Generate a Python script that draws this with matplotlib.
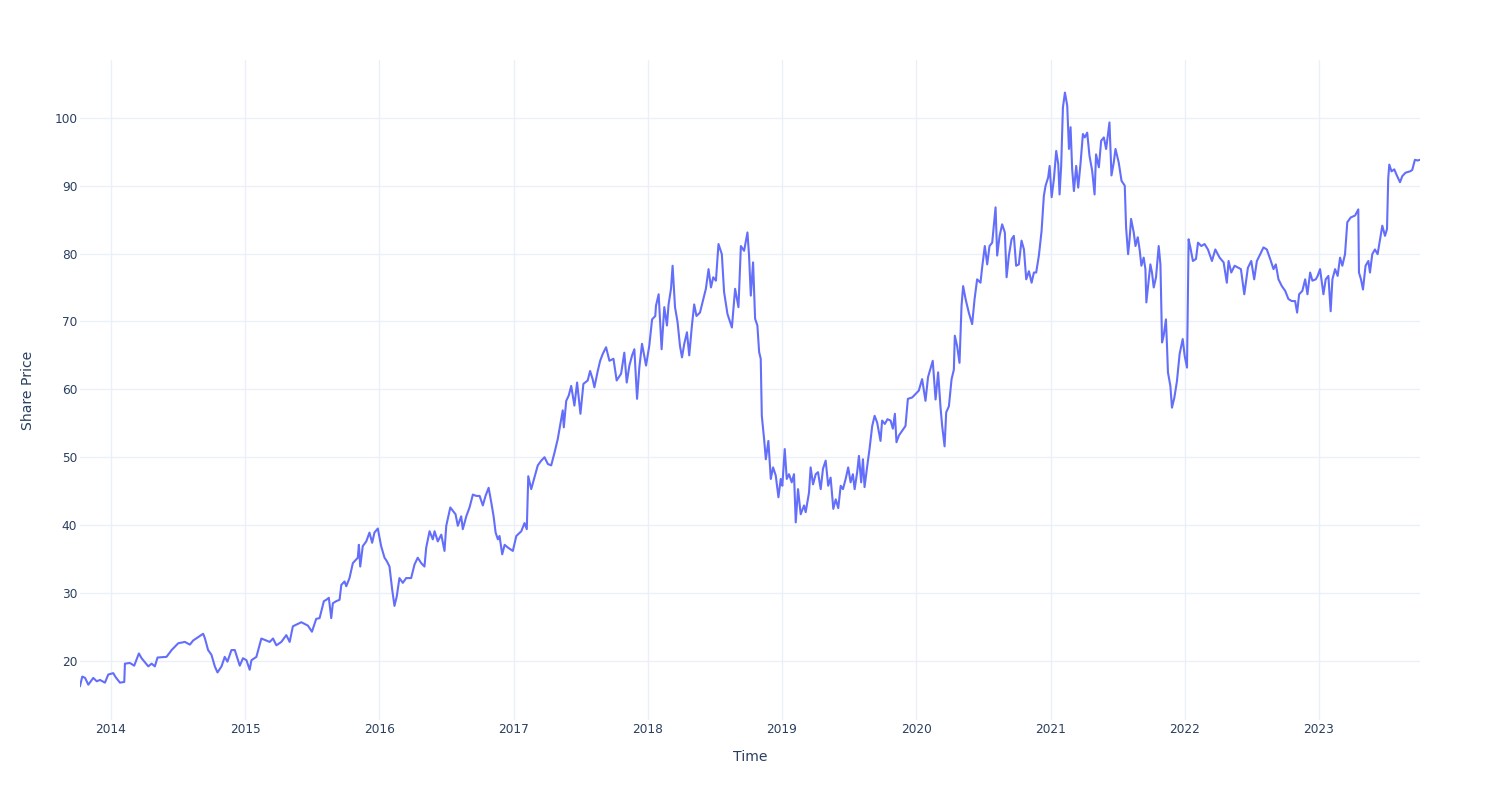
import numpy as np
import pandas as pd
import matplotlib
matplotlib.use('Agg')
import matplotlib.pyplot as plt
import matplotlib.dates as mdates

# share price, time as decimal years
years_2013_15 = [
    2013.769, 2013.786, 2013.807, 2013.831, 2013.868, 2013.894, 2013.918, 2013.955, 2013.980, 2014.017,
    2014.035, 2014.067, 2014.099, 2014.104, 2014.141, 2014.173, 2014.208, 2014.228, 2014.278, 2014.303,
    2014.327, 2014.347, 2014.414, 2014.452, 2014.501, 2014.551, 2014.588, 2014.612, 2014.687, 2014.699,
    2014.724, 2014.749, 2014.774, 2014.794, 2014.824, 2014.848, 2014.868, 2014.898, 2014.923, 2014.947,
    2014.960, 2014.984, 2015.010, 2015.034, 2015.047, 2015.084, 2015.121, 2015.183, 2015.208, 2015.233,
    2015.270, 2015.307, 2015.332, 2015.356, 2015.419, 2015.468, 2015.498]
price_2013_15 = [
    16.3, 17.7, 17.5, 16.5, 17.5, 17.0, 17.2, 16.8, 18.0, 18.2,
    17.6, 16.8, 16.9, 19.6, 19.7, 19.3, 21.1, 20.4, 19.2, 19.6,
    19.2, 20.5, 20.6, 21.6, 22.6, 22.8, 22.4, 23.0, 24.0, 23.4,
    21.6, 20.9, 19.2, 18.3, 19.2, 20.6, 19.9, 21.6, 21.6, 20.1,
    19.3, 20.4, 20.1, 18.7, 20.1, 20.6, 23.3, 22.8, 23.3, 22.3,
    22.8, 23.8, 22.8, 25.1, 25.7, 25.2, 24.3]

years_2015_17 = [
    2015.530, 2015.555, 2015.587, 2015.605, 2015.624, 2015.642, 2015.654, 2015.679, 2015.704, 2015.717,
    2015.741, 2015.754, 2015.778, 2015.803, 2015.840, 2015.848, 2015.858, 2015.877, 2015.903, 2015.927,
    2015.947, 2015.964, 2015.989, 2016.014, 2016.039, 2016.056, 2016.076, 2016.096, 2016.113, 2016.130,
    2016.150, 2016.175, 2016.200, 2016.237, 2016.262, 2016.286, 2016.312, 2016.336, 2016.349, 2016.374,
    2016.398, 2016.411, 2016.435, 2016.461, 2016.485, 2016.498, 2016.528, 2016.547, 2016.567, 2016.584,
    2016.609, 2016.621, 2016.647, 2016.671, 2016.696, 2016.721, 2016.746, 2016.770, 2016.790, 2016.813,
    2016.833, 2016.850, 2016.865, 2016.882, 2016.894, 2016.914, 2016.932, 2016.956, 2016.993, 2017.019,
    2017.056, 2017.080, 2017.097, 2017.108, 2017.130]
price_2015_17 = [
    26.2, 26.3, 28.8, 29.0, 29.3, 26.3, 28.5, 28.8, 29.0, 31.2,
    31.7, 31.0, 32.2, 34.4, 35.2, 37.1, 33.9, 36.9, 37.6, 38.9,
    37.4, 38.9, 39.5, 36.9, 35.2, 34.7, 33.9, 30.5, 28.1, 29.5,
    32.2, 31.5, 32.2, 32.2, 34.2, 35.2, 34.4, 33.9, 36.7, 39.1,
    37.9, 39.1, 37.6, 38.6, 36.2, 39.9, 42.6, 42.1, 41.6, 39.9,
    41.3, 39.4, 41.3, 42.6, 44.5, 44.3, 44.3, 42.9, 44.3, 45.5,
    43.3, 41.3, 38.9, 37.9, 38.4, 35.7, 37.1, 36.7, 36.2, 38.4,
    39.1, 40.3, 39.4, 47.2, 45.3]

years_2017_18 = [
    2017.179, 2017.205, 2017.229, 2017.254, 2017.279, 2017.304, 2017.328, 2017.353, 2017.365, 2017.373,
    2017.391, 2017.410, 2017.428, 2017.452, 2017.472, 2017.497, 2017.519, 2017.551, 2017.569, 2017.588,
    2017.601, 2017.626, 2017.644, 2017.663, 2017.688, 2017.713, 2017.743, 2017.767, 2017.800, 2017.824,
    2017.842, 2017.862, 2017.882, 2017.899, 2017.919, 2017.936, 2017.956, 2017.986, 2018.010, 2018.031,
    2018.055, 2018.060, 2018.080, 2018.102, 2018.122, 2018.142, 2018.154, 2018.172, 2018.184, 2018.202,
    2018.221, 2018.239, 2018.254, 2018.271, 2018.291, 2018.308, 2018.328, 2018.345, 2018.362, 2018.388,
    2018.407, 2018.432, 2018.452, 2018.470, 2018.487, 2018.507, 2018.526, 2018.551, 2018.568, 2018.593,
    2018.626, 2018.650, 2018.675, 2018.693, 2018.717, 2018.742]
price_2017_18 = [
    48.8, 49.5, 50.0, 49.0, 48.8, 50.7, 52.7, 55.6, 56.9, 54.4,
    58.3, 59.1, 60.5, 57.6, 61.0, 56.4, 60.8, 61.3, 62.7, 61.5,
    60.3, 62.7, 64.2, 65.2, 66.2, 64.2, 64.5, 61.3, 62.3, 65.4,
    61.0, 63.5, 65.0, 65.9, 58.6, 63.2, 66.7, 63.5, 66.4, 70.3,
    70.8, 72.3, 74.0, 65.9, 72.1, 69.4, 72.5, 74.8, 78.2, 72.1,
    69.9, 66.4, 64.7, 66.7, 68.4, 65.0, 69.4, 72.5, 70.8, 71.3,
    72.8, 74.8, 77.7, 75.0, 76.5, 76.0, 81.4, 79.9, 74.3, 71.1,
    69.1, 74.8, 72.1, 81.1, 80.4, 83.1]

years_2018_20 = [
    2018.754, 2018.767, 2018.784, 2018.799, 2018.816, 2018.829, 2018.841, 2018.849, 2018.866, 2018.879,
    2018.898, 2018.916, 2018.933, 2018.953, 2018.973, 2018.990, 2019.002, 2019.020, 2019.035, 2019.052,
    2019.072, 2019.089, 2019.102, 2019.119, 2019.139, 2019.164, 2019.176, 2019.201, 2019.213, 2019.231,
    2019.251, 2019.268, 2019.288, 2019.305, 2019.325, 2019.344, 2019.362, 2019.382, 2019.400, 2019.419,
    2019.437, 2019.454, 2019.474, 2019.493, 2019.511, 2019.528, 2019.541, 2019.560, 2019.573, 2019.590,
    2019.603, 2019.615, 2019.635, 2019.652, 2019.672, 2019.690, 2019.709, 2019.734, 2019.746, 2019.766,
    2019.786, 2019.809, 2019.826, 2019.841, 2019.853, 2019.871, 2019.895, 2019.920, 2019.938, 2019.970,
    2019.995, 2020.019, 2020.044, 2020.069, 2020.088]
price_2018_20 = [
    79.7, 73.8, 78.7, 70.4, 69.4, 65.5, 64.5, 56.1, 52.7, 49.7,
    52.4, 46.8, 48.5, 47.3, 44.1, 46.8, 45.8, 51.2, 46.8, 47.5,
    46.3, 47.5, 40.4, 45.3, 41.6, 42.9, 41.9, 44.8, 48.5, 46.0,
    47.5, 47.8, 45.3, 48.3, 49.5, 45.8, 47.0, 42.4, 43.8, 42.5,
    45.8, 45.3, 46.8, 48.5, 46.3, 47.5, 45.3, 47.8, 50.2, 46.3,
    49.7, 45.6, 48.7, 51.2, 54.6, 56.1, 55.1, 52.4, 55.4, 54.9,
    55.6, 55.4, 54.2, 56.4, 52.2, 53.2, 53.9, 54.6, 58.6, 58.8,
    59.3, 59.8, 61.5, 58.3, 61.8]

years_2020_21 = [
    2020.123, 2020.144, 2020.163, 2020.181, 2020.193, 2020.211, 2020.223, 2020.243, 2020.263, 2020.280,
    2020.287, 2020.304, 2020.322, 2020.337, 2020.349, 2020.367, 2020.391, 2020.416, 2020.434, 2020.453,
    2020.478, 2020.490, 2020.510, 2020.528, 2020.545, 2020.565, 2020.577, 2020.590, 2020.602, 2020.620,
    2020.639, 2020.659, 2020.672, 2020.689, 2020.709, 2020.726, 2020.743, 2020.763, 2020.783, 2020.801,
    2020.818, 2020.838, 2020.858, 2020.875, 2020.892, 2020.912, 2020.932, 2020.949, 2020.962, 2020.981,
    2020.992, 2021.007, 2021.024, 2021.041, 2021.056, 2021.066, 2021.078, 2021.091, 2021.106, 2021.123,
    2021.136, 2021.148, 2021.160, 2021.173, 2021.190, 2021.205, 2021.222, 2021.240, 2021.254, 2021.272,
    2021.289, 2021.309, 2021.327, 2021.338, 2021.359, 2021.376, 2021.396, 2021.413, 2021.438, 2021.453,
    2021.470, 2021.483, 2021.507, 2021.528, 2021.552, 2021.562]
price_2020_21 = [
    64.2, 58.5, 62.5, 57.3, 54.6, 51.6, 56.6, 57.5, 61.5, 62.9,
    67.9, 66.4, 63.9, 72.3, 75.2, 73.3, 71.3, 69.6, 73.3, 76.2,
    75.7, 77.9, 81.1, 78.4, 81.1, 81.6, 84.1, 86.8, 79.7, 82.6,
    84.3, 83.1, 76.5, 79.7, 82.1, 82.6, 78.2, 78.4, 81.9, 80.6,
    76.2, 77.4, 75.7, 77.2, 77.2, 79.7, 83.3, 88.5, 90.0, 91.2,
    92.9, 88.3, 91.0, 95.1, 93.2, 88.7, 92.9, 101.5, 103.7, 101.8,
    95.4, 98.6, 92.4, 89.2, 92.9, 89.7, 93.2, 97.6, 97.1, 97.8,
    94.4, 92.2, 88.7, 94.6, 92.7, 96.6, 97.1, 95.4, 99.3, 91.5,
    93.4, 95.4, 93.4, 90.7, 90.0, 83.8]

years_2021_23 = [
    2021.577, 2021.587, 2021.599, 2021.619, 2021.632, 2021.649, 2021.664, 2021.676, 2021.693, 2021.706,
    2021.713, 2021.731, 2021.743, 2021.755, 2021.768, 2021.785, 2021.805, 2021.818, 2021.830, 2021.842,
    2021.859, 2021.867, 2021.874, 2021.892, 2021.904, 2021.922, 2021.941, 2021.961, 2021.984, 2021.999,
    2022.016, 2022.028, 2022.041, 2022.060, 2022.083, 2022.098, 2022.123, 2022.147, 2022.172, 2022.202,
    2022.227, 2022.259, 2022.289, 2022.313, 2022.326, 2022.346, 2022.371, 2022.400, 2022.418, 2022.443,
    2022.470, 2022.495, 2022.517, 2022.537, 2022.562, 2022.586, 2022.611, 2022.636, 2022.661, 2022.678,
    2022.698, 2022.723, 2022.748, 2022.772, 2022.797, 2022.822, 2022.837, 2022.852, 2022.876, 2022.897,
    2022.914, 2022.934, 2022.951, 2022.976, 2022.990, 2023.008, 2023.033, 2023.050, 2023.070, 2023.087,
    2023.100, 2023.120, 2023.139, 2023.157, 2023.174, 2023.194, 2023.211, 2023.236, 2023.269, 2023.293,
    2023.298, 2023.313, 2023.328, 2023.347, 2023.368, 2023.380, 2023.397, 2023.417, 2023.437, 2023.455,
    2023.472, 2023.492, 2023.507]
price_2021_23 = [
    79.9, 81.9, 85.1, 83.1, 81.1, 82.4, 80.4, 78.2, 79.4, 77.7,
    72.8, 76.2, 78.4, 77.2, 75.0, 76.5, 81.1, 78.4, 66.9, 67.9,
    70.3, 66.4, 62.5, 60.5, 57.3, 58.8, 61.2, 65.2, 67.4, 64.9,
    63.2, 82.1, 80.9, 78.9, 79.2, 81.6, 81.1, 81.4, 80.6, 78.9,
    80.6, 79.4, 78.7, 75.7, 78.9, 77.2, 78.2, 77.9, 77.7, 74.0,
    77.9, 78.9, 76.2, 78.9, 79.9, 80.9, 80.6, 79.2, 77.7, 78.4,
    76.2, 75.2, 74.5, 73.3, 73.0, 73.0, 71.3, 74.0, 74.5, 76.2,
    74.0, 77.2, 76.0, 76.2, 76.7, 77.7, 74.0, 76.2, 76.7, 71.5,
    76.2, 77.7, 76.7, 79.4, 78.2, 79.9, 84.6, 85.3, 85.6, 86.5,
    77.2, 76.2, 74.7, 78.2, 78.9, 77.2, 79.9, 80.6, 79.9, 82.1,
    84.1, 82.6, 83.6]

years_2023_end = [
    2023.516, 2023.524, 2023.541, 2023.561, 2023.578, 2023.604, 2023.621, 2023.645, 2023.678, 2023.695,
    2023.715, 2023.735, 2023.753]
price_2023_end = [
    91.0, 93.1, 92.1, 92.4, 91.6, 90.5, 91.4, 91.9, 92.1, 92.3,
    93.8, 93.7, 93.8]

years = years_2013_15 + years_2015_17 + years_2017_18 + years_2018_20 + years_2020_21 + years_2021_23 + years_2023_end
prices = price_2013_15 + price_2015_17 + price_2017_18 + price_2018_20 + price_2020_21 + price_2021_23 + price_2023_end
assert len(years) == len(prices)


def toDate(y):
    '''decimal year -> timestamp'''
    yr = int(np.floor(y))
    start = pd.Timestamp(year=yr, month=1, day=1)
    end = pd.Timestamp(year=yr + 1, month=1, day=1)
    return start + (end - start) * (y - yr)


dates = [toDate(y) for y in years]

textColor = '#2a3f5f'
fig = plt.figure(figsize=(15, 8), dpi=100)
ax = fig.add_axes([80 / 1500, 80 / 800, 1340 / 1500, 660 / 800])
ax.plot(dates, prices, color='#636efa', lw=1.5, solid_joinstyle='round')

ax.set_xlim(dates[0], dates[-1])
ax.set_ylim(11.3, 108.5)
ax.set_yticks(range(20, 101, 10))
ax.xaxis.set_major_locator(mdates.YearLocator())
ax.xaxis.set_major_formatter(mdates.DateFormatter('%Y'))

ax.grid(color='#EBF0F8', lw=1)
ax.set_axisbelow(True)
for s in ax.spines.values():
    s.set_visible(False)
ax.tick_params(axis='both', length=0, colors=textColor, labelsize=8.7)
ax.tick_params(axis='x', pad=2)
ax.tick_params(axis='y', pad=2)

ax.set_xlabel('Time', fontsize=10.1, color=textColor, labelpad=10.5)
ax.set_ylabel('Share Price', fontsize=10.1, color=textColor, labelpad=14)

fig.savefig('out.png', dpi=100)
